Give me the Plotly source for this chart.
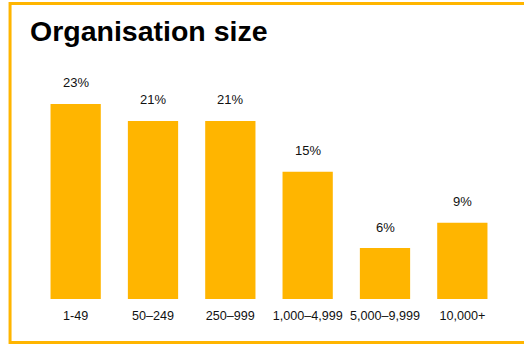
import plotly.graph_objects as go

categories = ["1-49", "50–249", "250–999", "1,000–4,999", "5,000–9,999", "10,000+"]
values = [23, 21, 21, 15, 6, 9]
labels = [f"{v}%" for v in values]

ORANGE = "#FFB500"
FONT = "Liberation Sans, Arial, sans-serif"

W, H = 524, 344
L, R, T, B = 37.4, 23.4, 87, 45
PW, PH = W - L - R, H - T - B

def px_to_paper_x(px):
    return (px - L) / PW

def px_to_paper_y(py):
    return (H - B - py) / PH

fig = go.Figure(go.Bar(
    x=categories, y=values,
    marker=dict(color=ORANGE, line=dict(width=0)),
    hoverinfo="skip",
))

for c, v, t in zip(categories, values, labels):
    fig.add_annotation(x=c, y=v, text=t, showarrow=False, yanchor="middle",
                       yshift=21, font=dict(family=FONT, size=13, color="#111111"))

fig.add_shape(type="rect", xref="paper", yref="paper",
              x0=px_to_paper_x(10.5), x1=px_to_paper_x(540),
              y0=px_to_paper_y(342.5), y1=px_to_paper_y(3.5),
              line=dict(color=ORANGE, width=3), fillcolor="rgba(0,0,0,0)", layer="below")

fig.update_layout(
    width=W, height=H,
    margin=dict(l=L, r=R, t=T, b=B, pad=0),
    paper_bgcolor="white", plot_bgcolor="white",
    bargap=0.35,
    showlegend=False,
    title=dict(text="<b>Organisation size</b>", x=30 / W, xanchor="left", xref="container",
               y=1 - 31 / H, yanchor="middle", yref="container",
               font=dict(family=FONT, size=28.5, color="black")),
    xaxis=dict(showgrid=False, zeroline=False, showline=False, ticks="outside", ticklen=5,
               tickcolor="rgba(0,0,0,0)",
               tickfont=dict(family=FONT, size=12.6, color="#111111"), fixedrange=True),
    yaxis=dict(range=[0, 25], visible=False, fixedrange=True),
)

fig.write_html("out.html")
